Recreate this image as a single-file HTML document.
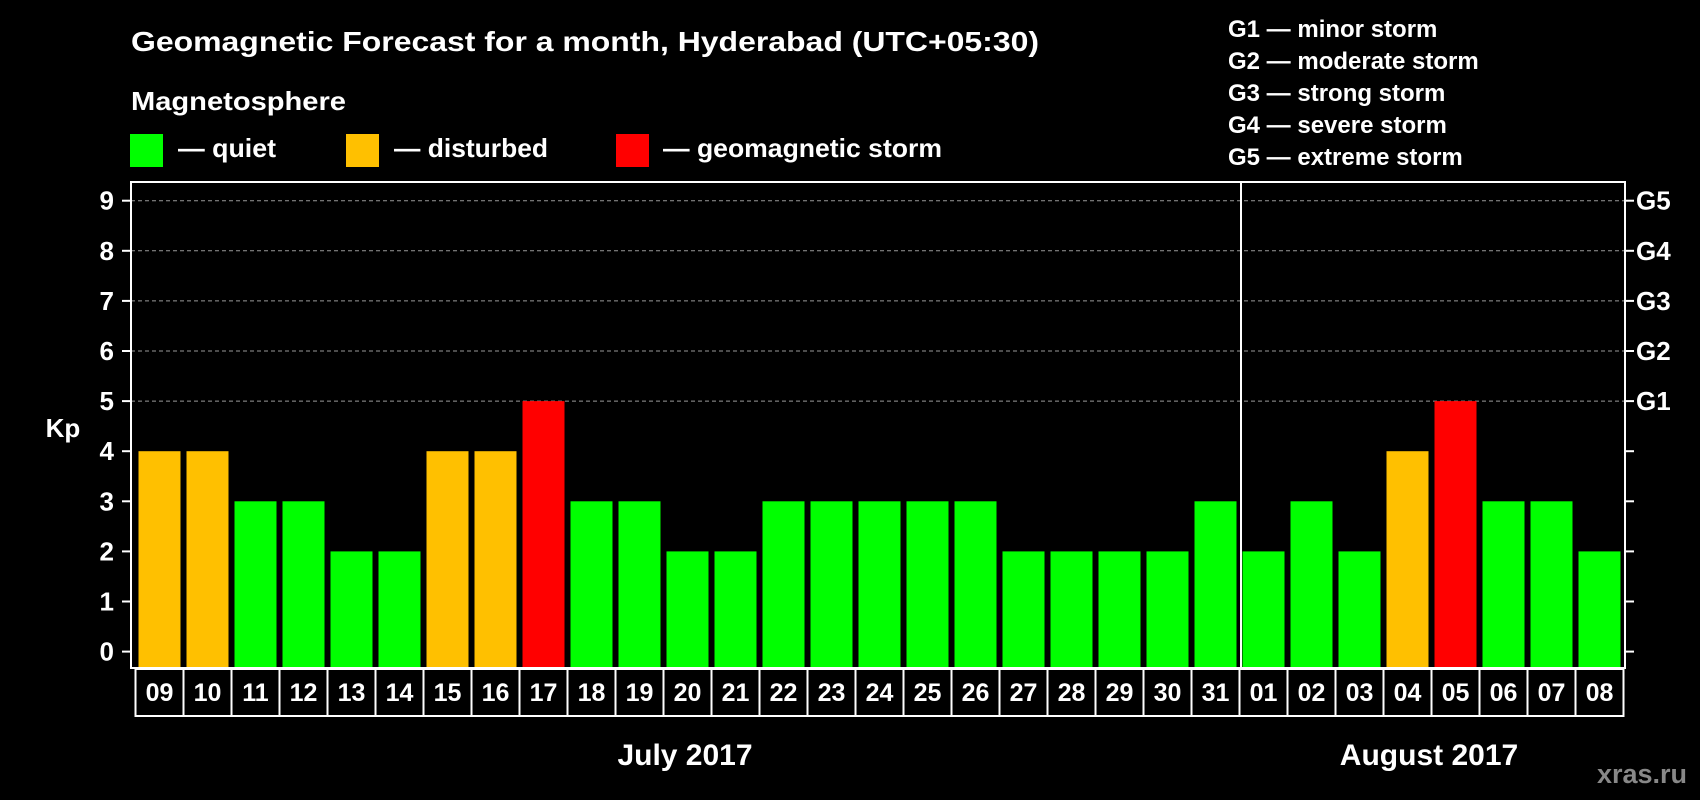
<!DOCTYPE html>
<html><head><meta charset="utf-8"><style>
html,body{margin:0;padding:0;background:#000;}
svg{display:block;font-family:"Liberation Sans",Arial,sans-serif;font-weight:bold;}
</style></head><body>
<svg id="chart" width="1700" height="800" viewBox="0 0 1700 800">
<text x="131" y="51" fill="#fff" font-size="28" textLength="908" lengthAdjust="spacingAndGlyphs">Geomagnetic Forecast for a month, Hyderabad (UTC+05:30)</text>
<text x="131" y="110" fill="#fff" font-size="26" textLength="215" lengthAdjust="spacingAndGlyphs">Magnetosphere</text>
<g><rect x="130" y="134" width="33" height="33" fill="#00ff00"/><text x="178" y="157" fill="#fff" font-size="26" textLength="98" lengthAdjust="spacingAndGlyphs">— quiet</text></g>
<g><rect x="346" y="134" width="33" height="33" fill="#ffc000"/><text x="394" y="157" fill="#fff" font-size="26" textLength="154" lengthAdjust="spacingAndGlyphs">— disturbed</text></g>
<g><rect x="616" y="134" width="33" height="33" fill="#ff0000"/><text x="663" y="157" fill="#fff" font-size="26" textLength="279" lengthAdjust="spacingAndGlyphs">— geomagnetic storm</text></g>
<g font-size="24" fill="#fff">
<text x="1228" y="37">G1 — minor storm</text>
<text x="1228" y="69">G2 — moderate storm</text>
<text x="1228" y="101">G3 — strong storm</text>
<text x="1228" y="133">G4 — severe storm</text>
<text x="1228" y="165">G5 — extreme storm</text>
</g>
<g id="grid"></g>
<g id="bars"></g>
<g id="axes"></g>
<text x="63" y="437" fill="#fff" font-size="26" text-anchor="middle">Kp</text>
<text x="685" y="765" fill="#fff" font-size="30" text-anchor="middle">July 2017</text>
<text x="1429" y="765" fill="#fff" font-size="30" text-anchor="middle">August 2017</text>
<text x="1642" y="783" fill="#888" font-size="27" text-anchor="middle">xras.ru</text>
</svg>
<script>
const days = ["09","10","11","12","13","14","15","16","17","18","19","20","21","22","23","24","25","26","27","28","29","30","31","01","02","03","04","05","06","07","08"];
const kpValues = [4,4,3,3,2,2,4,4,5,3,3,2,2,3,3,3,3,3,2,2,2,2,3,2,3,2,4,5,3,3,2];
const yTicks = [0,1,2,3,4,5,6,7,8,9];
const gLabels = ["","","","","","G1","G2","G3","G4","G5"];
const monthBreakIndex = 23;

const NS = "http://www.w3.org/2000/svg";
const L = 131, R = 1625, T = 182, B = 668;
const y0 = 651.6, perKp = 50.1;
const x0 = 135.5, step = 48;
function yScale(v){ return y0 - v * perKp; }
function xScale(i){ return x0 + i * step; }
function color(v){ return v >= 5 ? "#ff0000" : (v >= 4 ? "#ffc000" : "#00ff00"); }
function mk(tag, attrs, parent){ const e = document.createElementNS(NS, tag); for (const k in attrs) e.setAttribute(k, attrs[k]); parent.appendChild(e); return e; }

const grid = document.getElementById("grid"), bars = document.getElementById("bars"), axes = document.getElementById("axes");
yTicks.forEach((t) => {
  const y = yScale(t);
  if (t >= 5) {
    const g = mk("line", {x1: L, x2: R, y1: y, y2: y, stroke: "#999", "stroke-width": 1, "stroke-dasharray": "4,3"}, grid);
    
    
  }
  const tl = mk("line", {x1: L - 9, x2: L, y1: y, y2: y, stroke: "#fff", "stroke-width": 2}, axes);
  
  
  const tr = mk("line", {x1: R, x2: R + 9, y1: y, y2: y, stroke: "#fff", "stroke-width": 2}, axes);
  
  
  const lab = mk("text", {x: 114, y: y + 9, fill: "#fff", "font-size": 26, "text-anchor": "end"}, axes);
  lab.textContent = String(t);
  
  
  if (gLabels[t]) {
    const gl = mk("text", {x: 1636, y: y + 9, fill: "#fff", "font-size": 26}, axes);
    gl.textContent = gLabels[t];
    
    
  }
});
kpValues.forEach((v, i) => {
  const x = xScale(i) + 3;
  const b = mk("rect", {x: x, y: yScale(v), width: 42, height: B - yScale(v), fill: color(v)}, bars);
  
  
  const c = mk("rect", {x: xScale(i), y: 669, width: step, height: 47, fill: "none", stroke: "#fff", "stroke-width": 2}, axes);
  
  
  const t = mk("text", {x: xScale(i) + step / 2, y: 701, fill: "#fff", "font-size": 25, "text-anchor": "middle"}, axes);
  t.textContent = days[i];
  
  
});
const frame = mk("rect", {x: L, y: T, width: R - L, height: B - T, fill: "none", stroke: "#fff", "stroke-width": 2}, axes);


const sepX = xScale(monthBreakIndex) + 1.5;
const sep = mk("line", {x1: sepX, x2: sepX, y1: T, y2: B, stroke: "#fff", "stroke-width": 2}, axes);


</script>
</body></html>
